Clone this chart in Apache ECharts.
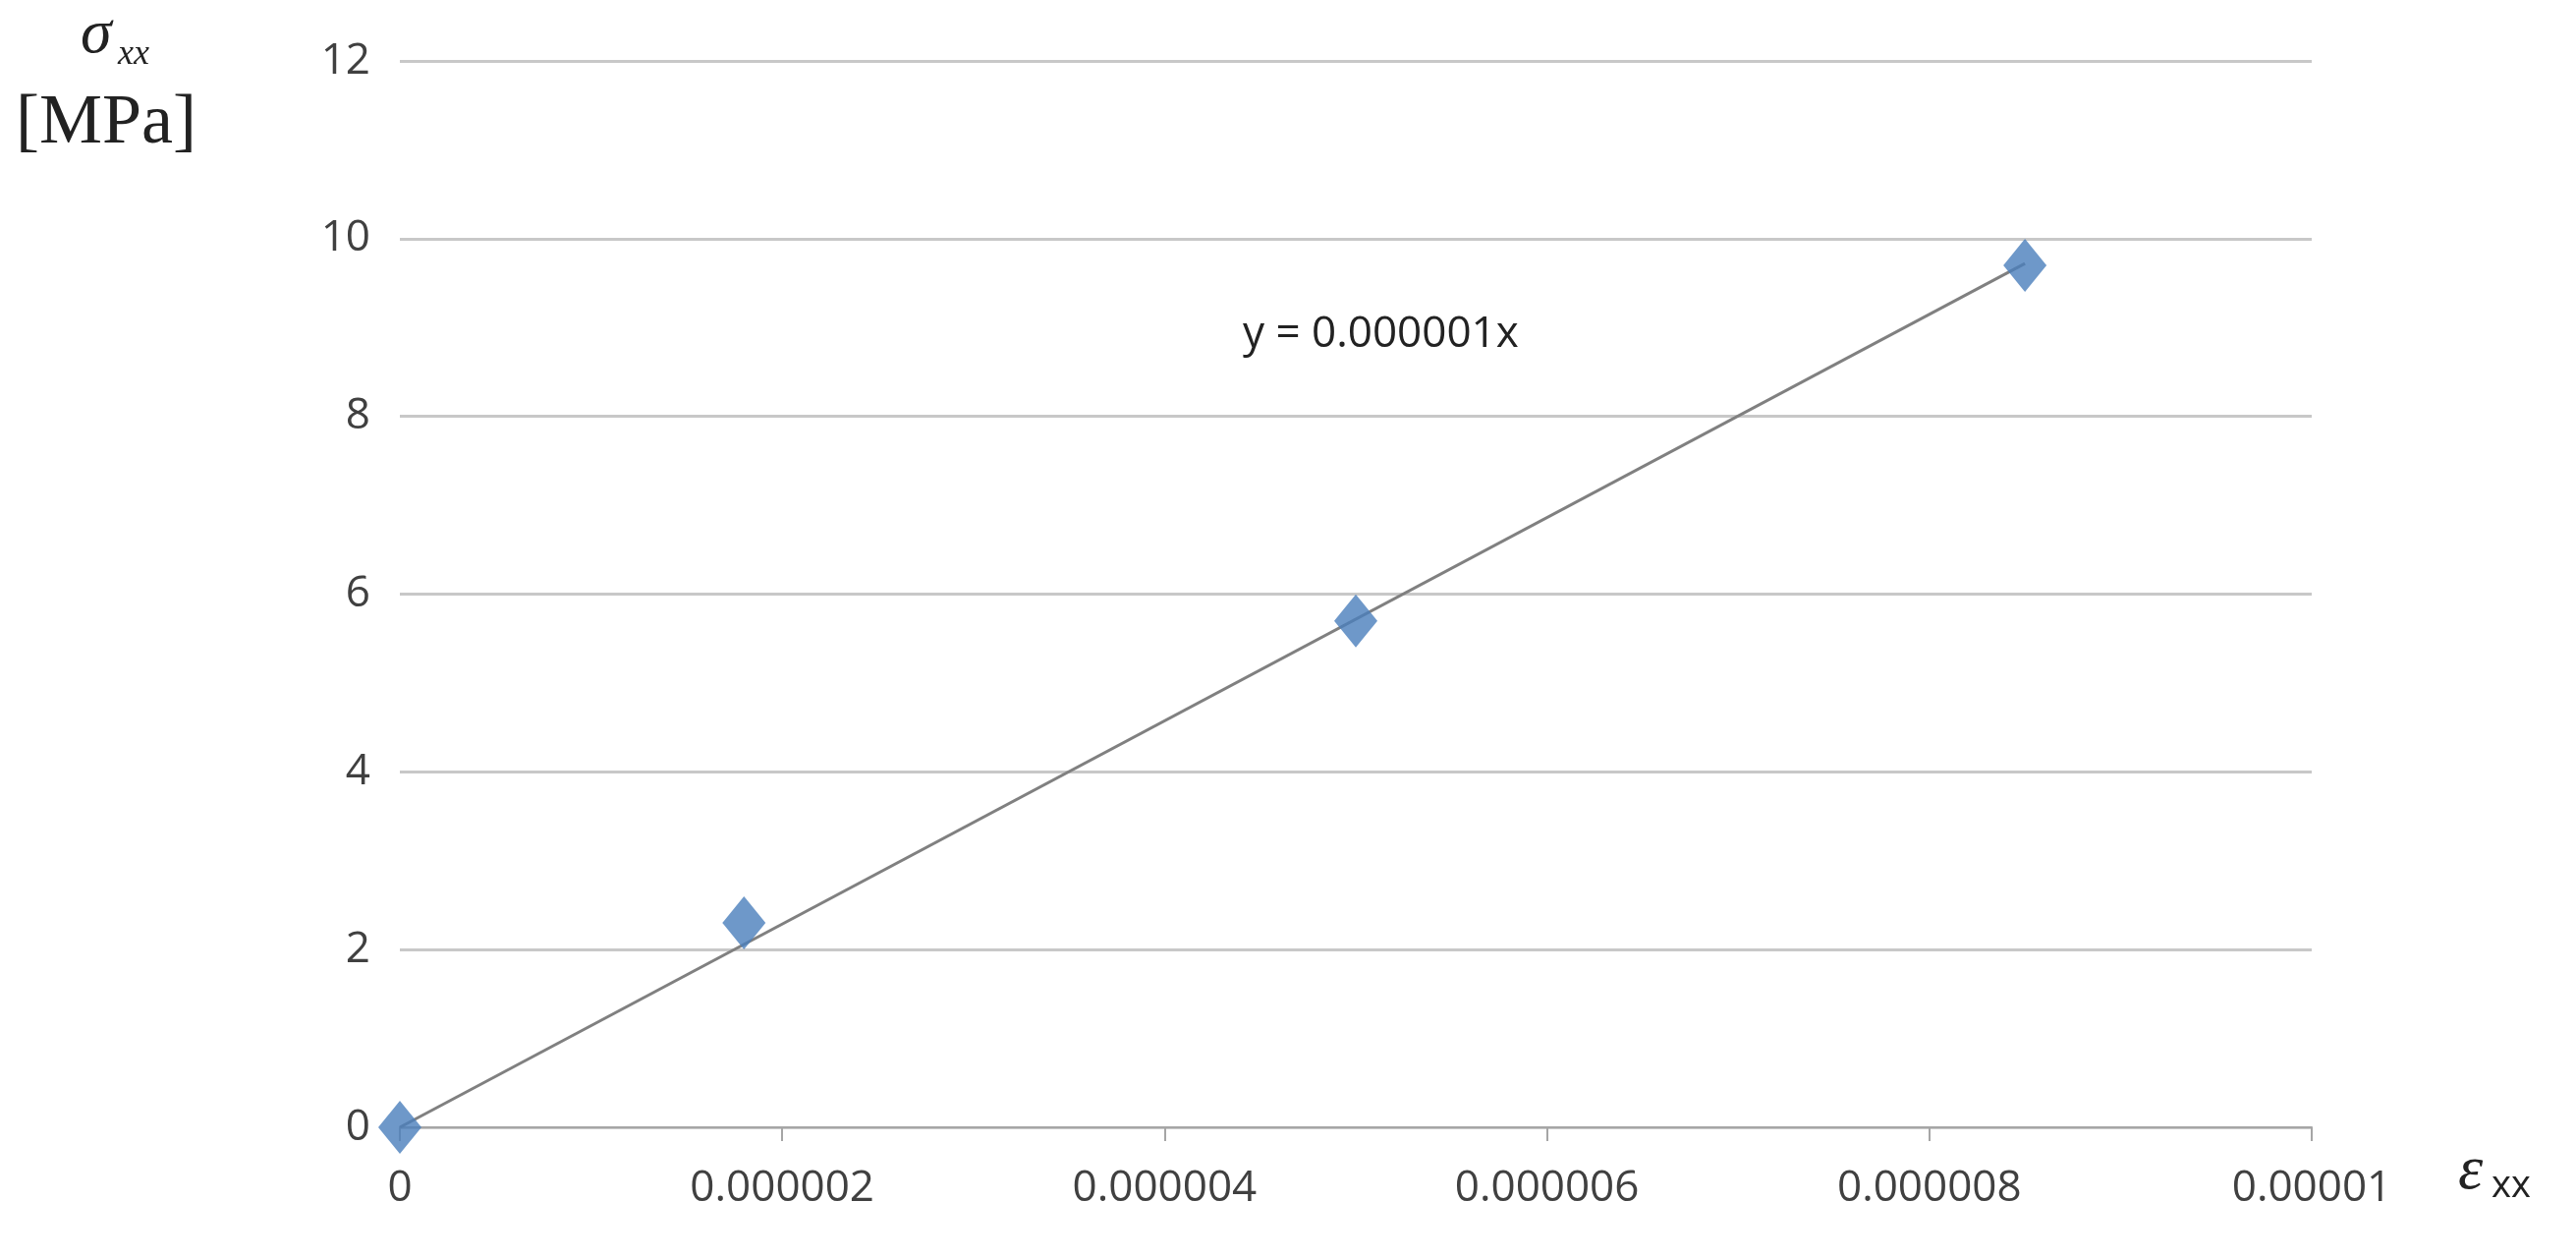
<!DOCTYPE html>
<html><head><meta charset="utf-8">
<script src="https://cdn.jsdelivr.net/npm/echarts@6/dist/echarts.min.js"></script>
<style>html,body{margin:0;background:#fff}#c{width:2622px;height:1281px}</style>
</head><body><div id="c"></div>
<script>
const strain = [0, 0.0000018, 0.000005, 0.0000085];
const stress = [0, 2.3, 5.7, 9.7];
const trendX = [0, 0.0000085];
const trendY = [0, 9.72];
const xTickLabels = {0:'0',1:'0.000002',2:'0.000004',3:'0.000006',4:'0.000008',5:'0.00001'};
const equation = 'y = 0.000001x';

const chart = echarts.init(document.getElementById('c'));
chart.setOption({
  animation:false,
  grid:{left:407,right:269,top:62,bottom:134},
  xAxis:{type:'value',min:0,max:0.00001,interval:0.000002,
    axisLine:{lineStyle:{color:'#a6a6a6',width:2}},
    axisTick:{show:true,length:14,lineStyle:{color:'#a6a6a6',width:2}},
    splitLine:{show:false},
    axisLabel:{margin:40,fontSize:44,color:'#404040',fontFamily:'Open Sans',
      formatter:v=>xTickLabels[Math.round(v/0.000002)]}},
  yAxis:{type:'value',min:0,max:12,interval:2,
    axisLine:{show:false},axisTick:{show:false},
    splitLine:{lineStyle:{color:'#c8c8c8',width:3}},
    axisLabel:{margin:30,fontSize:44,color:'#404040',fontFamily:'Open Sans'}},
  series:[
    {type:'line',data:trendX.map((x,i)=>[x,trendY[i]]),symbol:'none',
     lineStyle:{color:'#808080',width:3},z:2},
    {type:'scatter',data:strain.map((x,i)=>[x,stress[i]]),symbol:'diamond',symbolSize:[44,54],
     itemStyle:{color:'#4a7ebb'},z:3}
  ],
  graphic:[
    {type:'text',left:1265,top:318,style:{text:equation,fontSize:44,fill:'#222',fontFamily:'Open Sans'}},
    {type:'text',left:82,top:4,style:{text:'σ',fontSize:64,fontStyle:'italic',fill:'#222',fontFamily:'Liberation Serif'}},
    {type:'text',left:120,top:38,style:{text:'xx',fontSize:36,fontStyle:'italic',fill:'#222',fontFamily:'Liberation Serif'}},
    {type:'text',left:16,top:90,style:{text:'[MPa]',fontSize:72,fill:'#222',fontFamily:'Liberation Serif'}},
    {type:'text',left:2502,top:1160,style:{text:'ε',fontSize:64,fontStyle:'italic',fill:'#222',fontFamily:'Liberation Serif'}},
    {type:'text',left:2536,top:1188,style:{text:'xx',fontSize:38,fill:'#222',fontFamily:'Open Sans'}}
  ]
});
</script></body></html>
